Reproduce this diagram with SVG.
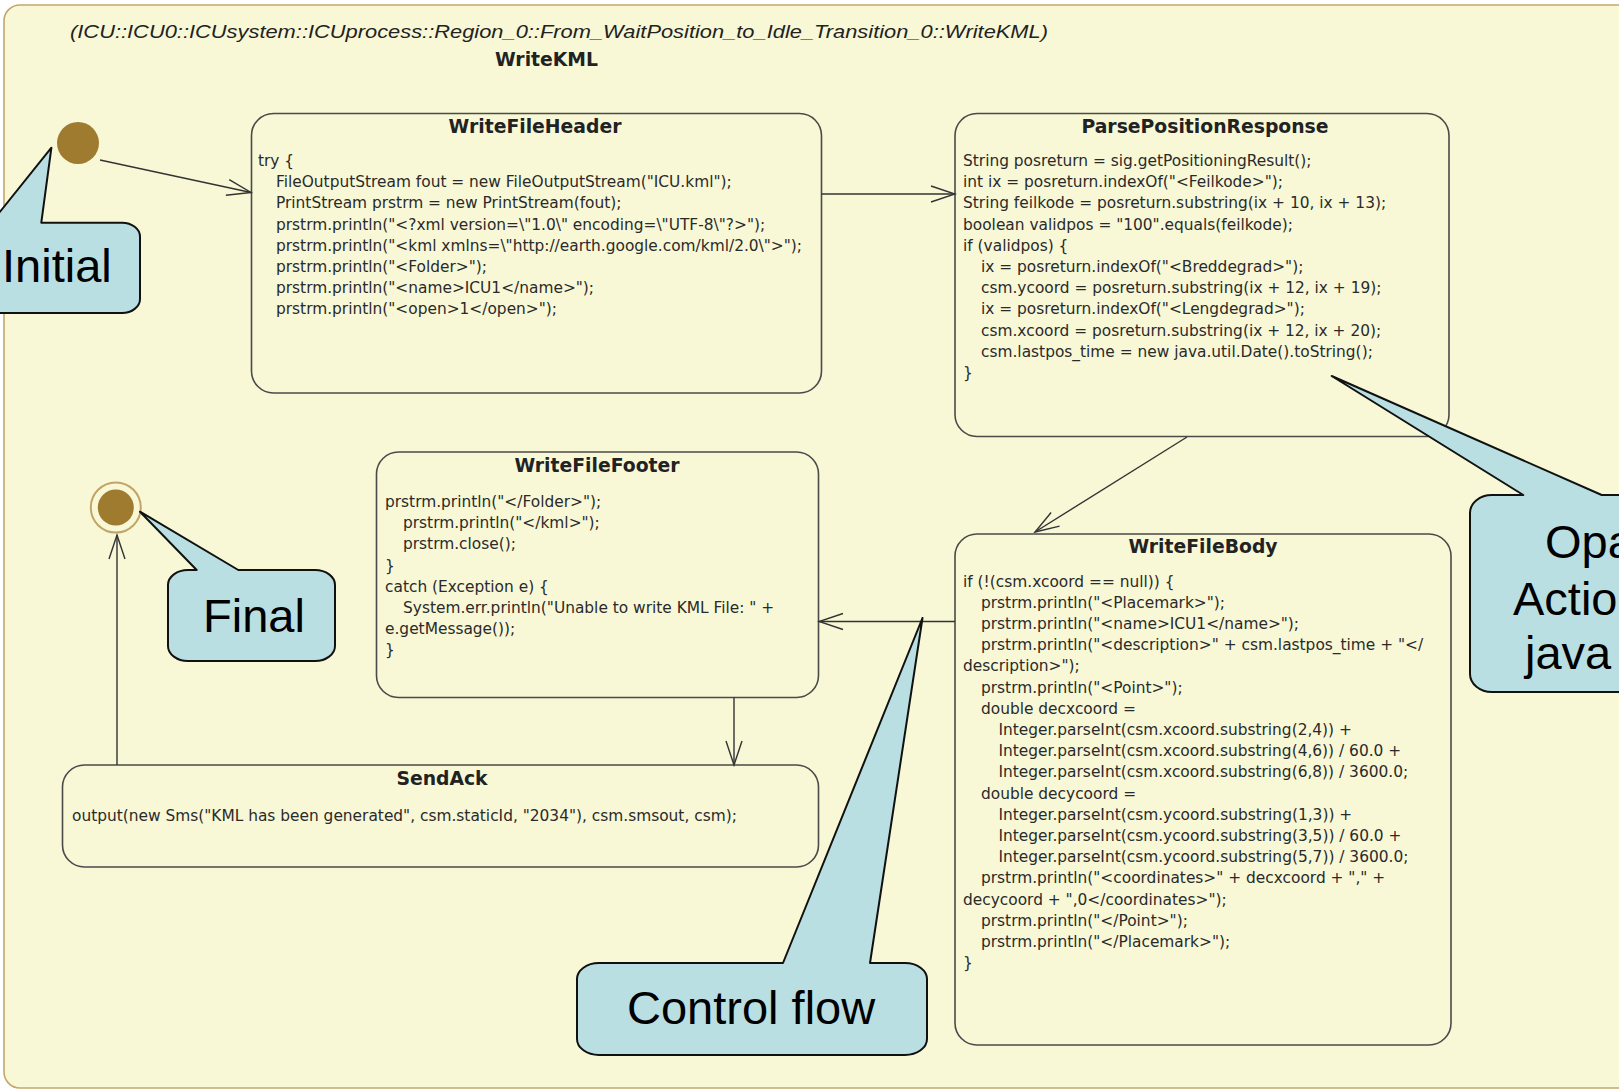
<svg xmlns="http://www.w3.org/2000/svg" width="1619" height="1090" viewBox="0 0 1619 1090">
  <defs>
    <style>
      .frame { fill: #f8f8d7; stroke: #c4a66c; stroke-width: 1.6; }
      .state { fill: #f8f8d7; stroke: #4a4a4a; stroke-width: 1.6; }
      .title { font-family: "DejaVu Sans", Verdana, sans-serif; font-weight: bold; font-size: 18.8px; fill: #222; text-anchor: middle; }
      .path { font-family: "Liberation Sans", Arial, sans-serif; font-style: italic; font-size: 18px; fill: #222; }
      .code { font-family: "DejaVu Sans", Verdana, sans-serif; font-size: 15.4px; fill: #2a2a2a; }
      .flow { fill: none; stroke: #333; stroke-width: 1.4; }
      .dot { fill: #9e7b2f; }
      .ring { fill: #f8f8d7; stroke: #c2a468; stroke-width: 2; }
      .bubble { fill: #b9dfe3; stroke: #111; stroke-width: 2; stroke-linejoin: round; }
      .note { font-family: "Liberation Sans", Arial, sans-serif; font-size: 47px; fill: #000; }
    </style>
    <marker id="open" viewBox="-27 -11 29 22" refX="0" refY="0" markerWidth="29" markerHeight="22" markerUnits="userSpaceOnUse" orient="auto">
      <path d="M-24,-8 L0,0 L-24,8" fill="none" stroke="#333" stroke-width="1.4"/>
    </marker>
  </defs>

  <rect width="1619" height="1090" fill="#ffffff"/>

  <!-- activity frame -->
  <g id="frame">
    <rect class="frame" x="4" y="5" width="1660" height="1083" rx="16" ry="16"/>
    <text class="path" x="70" y="38" textLength="978" lengthAdjust="spacingAndGlyphs">(ICU::ICU0::ICUsystem::ICUprocess::Region_0::From_WaitPosition_to_Idle_Transition_0::WriteKML)</text>
    <text class="title" x="546.5" y="66">WriteKML</text>
  </g>

  <!-- action states -->
  <g id="WriteFileHeader">
    <rect class="state" x="251.5" y="113.5" width="570" height="279.5" rx="22" ry="22"/>
    <text class="title" x="535" y="132.5">WriteFileHeader</text>
    <text class="code" x="258" y="166">try {</text>
    <text class="code" x="276" y="187.2">FileOutputStream fout = new FileOutputStream("ICU.kml");</text>
    <text class="code" x="276" y="208.4">PrintStream prstrm = new PrintStream(fout);</text>
    <text class="code" x="276" y="229.6">prstrm.println("&lt;?xml version=\"1.0\" encoding=\"UTF-8\"?&gt;");</text>
    <text class="code" x="276" y="250.8">prstrm.println("&lt;kml xmlns=\"http://earth.google.com/kml/2.0\"&gt;");</text>
    <text class="code" x="276" y="272">prstrm.println("&lt;Folder&gt;");</text>
    <text class="code" x="276" y="293.2">prstrm.println("&lt;name&gt;ICU1&lt;/name&gt;");</text>
    <text class="code" x="276" y="314.4">prstrm.println("&lt;open&gt;1&lt;/open&gt;");</text>
  </g>

  <g id="ParsePositionResponse">
    <rect class="state" x="955" y="113.5" width="494" height="323" rx="22" ry="22"/>
    <text class="title" x="1205" y="132.5">ParsePositionResponse</text>
    <text class="code" x="963" y="166">String posreturn = sig.getPositioningResult();</text>
    <text class="code" x="963" y="187.2">int ix = posreturn.indexOf("&lt;Feilkode&gt;");</text>
    <text class="code" x="963" y="208.4">String feilkode = posreturn.substring(ix + 10, ix + 13);</text>
    <text class="code" x="963" y="229.6">boolean validpos = "100".equals(feilkode);</text>
    <text class="code" x="963" y="250.8">if (validpos) {</text>
    <text class="code" x="981" y="272">ix = posreturn.indexOf("&lt;Breddegrad&gt;");</text>
    <text class="code" x="981" y="293.2">csm.ycoord = posreturn.substring(ix + 12, ix + 19);</text>
    <text class="code" x="981" y="314.4">ix = posreturn.indexOf("&lt;Lengdegrad&gt;");</text>
    <text class="code" x="981" y="335.6">csm.xcoord = posreturn.substring(ix + 12, ix + 20);</text>
    <text class="code" x="981" y="356.8">csm.lastpos_time = new java.util.Date().toString();</text>
    <text class="code" x="963" y="378">}</text>
  </g>

  <g id="WriteFileFooter">
    <rect class="state" x="376.5" y="452" width="442" height="245.5" rx="22" ry="22"/>
    <text class="title" x="597" y="472">WriteFileFooter</text>
    <text class="code" x="385" y="507">prstrm.println("&lt;/Folder&gt;");</text>
    <text class="code" x="403" y="528.2">prstrm.println("&lt;/kml&gt;");</text>
    <text class="code" x="403" y="549.4">prstrm.close();</text>
    <text class="code" x="385" y="570.6">}</text>
    <text class="code" x="385" y="591.8">catch (Exception e) {</text>
    <text class="code" x="403" y="613">System.err.println("Unable to write KML File: " +</text>
    <text class="code" x="385" y="634.2">e.getMessage());</text>
    <text class="code" x="385" y="655.4">}</text>
  </g>

  <g id="WriteFileBody">
    <rect class="state" x="955" y="534" width="496" height="511" rx="22" ry="22"/>
    <text class="title" x="1203" y="553">WriteFileBody</text>
    <text class="code" x="963" y="586.5">if (!(csm.xcoord == null)) {</text>
    <text class="code" x="981" y="607.7">prstrm.println("&lt;Placemark&gt;");</text>
    <text class="code" x="981" y="628.9">prstrm.println("&lt;name&gt;ICU1&lt;/name&gt;");</text>
    <text class="code" x="981" y="650.1">prstrm.println("&lt;description&gt;" + csm.lastpos_time + "&lt;/</text>
    <text class="code" x="963" y="671.3">description&gt;");</text>
    <text class="code" x="981" y="692.5">prstrm.println("&lt;Point&gt;");</text>
    <text class="code" x="981" y="713.7">double decxcoord =</text>
    <text class="code" x="998.5" y="734.9">Integer.parseInt(csm.xcoord.substring(2,4)) +</text>
    <text class="code" x="998.5" y="756.1">Integer.parseInt(csm.xcoord.substring(4,6)) / 60.0 +</text>
    <text class="code" x="998.5" y="777.3">Integer.parseInt(csm.xcoord.substring(6,8)) / 3600.0;</text>
    <text class="code" x="981" y="798.5">double decycoord =</text>
    <text class="code" x="998.5" y="819.7">Integer.parseInt(csm.ycoord.substring(1,3)) +</text>
    <text class="code" x="998.5" y="840.9">Integer.parseInt(csm.ycoord.substring(3,5)) / 60.0 +</text>
    <text class="code" x="998.5" y="862.1">Integer.parseInt(csm.ycoord.substring(5,7)) / 3600.0;</text>
    <text class="code" x="981" y="883.3">prstrm.println("&lt;coordinates&gt;" + decxcoord + "," +</text>
    <text class="code" x="963" y="904.5">decycoord + ",0&lt;/coordinates&gt;");</text>
    <text class="code" x="981" y="925.7">prstrm.println("&lt;/Point&gt;");</text>
    <text class="code" x="981" y="946.9">prstrm.println("&lt;/Placemark&gt;");</text>
    <text class="code" x="963" y="968.1">}</text>
  </g>

  <g id="SendAck">
    <rect class="state" x="62.5" y="765" width="756" height="102" rx="22" ry="22"/>
    <text class="title" x="442" y="785">SendAck</text>
    <text class="code" x="72" y="821">output(new Sms("KML has been generated", csm.staticId, "2034"), csm.smsout, csm);</text>
  </g>

  <!-- control flows -->
  <g id="connectors">
    <line class="flow" x1="100" y1="160" x2="251" y2="192.5" marker-end="url(#open)"/>
    <line class="flow" x1="821.5" y1="194" x2="955" y2="194" marker-end="url(#open)"/>
    <line class="flow" x1="1187" y1="437" x2="1035" y2="532" marker-end="url(#open)"/>
    <line class="flow" x1="955" y1="621.5" x2="819" y2="621.5" marker-end="url(#open)"/>
    <line class="flow" x1="734" y1="697.5" x2="734" y2="765" marker-end="url(#open)"/>
    <line class="flow" x1="117" y1="765" x2="117" y2="535" marker-end="url(#open)"/>
  </g>

  <!-- initial and final nodes -->
  <g id="Initial">
    <circle class="dot" cx="78" cy="143" r="21"/>
  </g>
  <g id="Final">
    <circle class="ring" cx="115.8" cy="507.5" r="25"/>
    <circle class="dot" cx="115.8" cy="507.5" r="18"/>
  </g>

  <!-- annotation callouts -->
  <g id="note-initial">
    <path class="bubble" d="M-8.8,222.7 L51.4,147.7 L41.3,222.7 L122,222.7 A18,14 0 0 1 140,236.7 L140,299 A18,14 0 0 1 122,313 L-40,313 L-40,222.7 Z"/>
    <text class="note" x="2" y="282">Initial</text>
  </g>
  <g id="note-final">
    <path class="bubble" d="M188,570 L196.7,570 L140,511.7 L238.3,570 L315,570 A20,15 0 0 1 335,585 L335,646 A20,15 0 0 1 315,661 L188,661 A20,15 0 0 1 168,646 L168,585 A20,15 0 0 1 188,570 Z"/>
    <text class="note" x="203" y="632">Final</text>
  </g>
  <g id="note-flow">
    <path class="bubble" d="M599,963 L783,963 L922.5,618 L870,963 L905,963 A22,16 0 0 1 927,979 L927,1039 A22,16 0 0 1 905,1055 L599,1055 A22,16 0 0 1 577,1039 L577,979 A22,16 0 0 1 599,963 Z"/>
    <text class="note" x="627" y="1024">Control flow</text>
  </g>
  <g id="note-action">
    <path class="bubble" d="M1492,495 L1523.3,495 L1331.7,376 L1601.7,495 L1700,495 L1700,692 L1492,692 A22,18 0 0 1 1470,674 L1470,513 A22,18 0 0 1 1492,495 Z"/>
    <text class="note" x="1545" y="558">Opa</text>
    <text class="note" x="1513" y="615">Actio</text>
    <text class="note" x="1525" y="669">java</text>
  </g>
</svg>
